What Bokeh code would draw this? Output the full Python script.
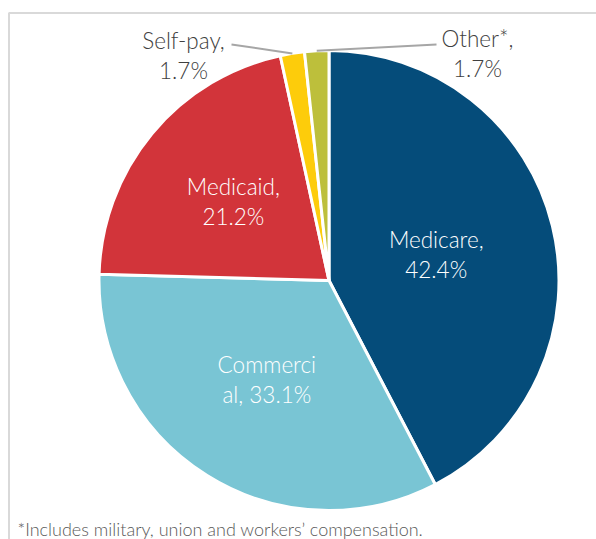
import math
from bokeh.plotting import figure
from bokeh.models import Range1d, ColumnDataSource
from bokeh.core.properties import value
from bokeh.embed import file_html
from bokeh.resources import INLINE

# ---- data ----
categories = ["Medicare", "Commercial", "Medicaid", "Self-pay", "Other*"]
shares = [42.4, 33.1, 21.2, 1.7, 1.7]
colors = ["#054C7A", "#79C5D4", "#D2343A", "#FDCC0B", "#BDBF3B"]
footnote = "*Includes military, union and workers\u2019 compensation."

# ---- layout ----
W, H = 596, 539
def sy(y):  # screen y -> data y
    return H - y

CX, CY = 328.5, sy(280)
R = 230
FONT = value("'Lato Light', Lato")

p = figure(width=W, height=H, output_backend="svg", toolbar_location=None,
           x_range=Range1d(0, W), y_range=Range1d(0, H),
           min_border=0, outline_line_color=None)
p.axis.visible = False
p.grid.visible = False
p.background_fill_color = "white"
p.border_fill_color = "white"

# frame lines (chart area border)
p.line([8.5, 8.5, 700], [-20, sy(12.5), sy(12.5)], line_color="#D9D9D9", line_width=2)

total = sum(shares)
starts, ends, mids = [], [], []
acc = 0.0
for s in shares:
    a0 = math.pi / 2 - 2 * math.pi * acc / total
    a1 = math.pi / 2 - 2 * math.pi * (acc + s) / total
    starts.append(a0)
    ends.append(a1)
    mids.append((a0 + a1) / 2)
    acc += s

src = ColumnDataSource(dict(start=starts, end=ends, color=colors))
p.wedge(x=CX, y=CY, radius=R, start_angle="start", end_angle="end",
        direction="clock", fill_color="color", line_color="white",
        line_width=3, source=src)

# inside labels
label_r = [0.48, 0.51, 0.54]
line_gap = 30
for i in range(3):
    lx = CX + R * label_r[i] * math.cos(mids[i])
    ly = CY + R * label_r[i] * math.sin(mids[i])
    pct = f"{shares[i]:.1f}%"
    if categories[i] == "Commercial":
        l1, l2 = "Commerci", f"al, {pct}"
    else:
        l1, l2 = f"{categories[i]},", pct
    p.text(x=[lx, lx], y=[ly + line_gap / 2, ly - line_gap / 2], text=[l1, l2],
           text_font=FONT, text_font_size="22.5px", text_color="white",
           text_align="center", text_baseline="middle")

# outside labels with leader lines
outside = {3: (183, 40, 231, 44), 4: (477, 38, 436, 44)}
for i, (tx, ty, ax, ay) in outside.items():
    ex = CX + R * math.cos(mids[i])
    ey = CY + R * math.sin(mids[i])
    p.line([ax, ex], [sy(ay), ey], line_color="#A6A6A6", line_width=2)
    p.text(x=[tx, tx], y=[sy(ty), sy(ty + line_gap)],
           text=[f"{categories[i]},", f"{shares[i]:.1f}%"],
           text_font=FONT, text_font_size="22.5px", text_color="#404040",
           text_align="center", text_baseline="middle")

# footnote
p.text(x=[17], y=[sy(528)], text=[footnote], text_font=FONT,
       text_font_size="18px", text_color="#595959",
       text_align="left", text_baseline="middle")

open("out.html", "w").write(file_html(p, INLINE))
